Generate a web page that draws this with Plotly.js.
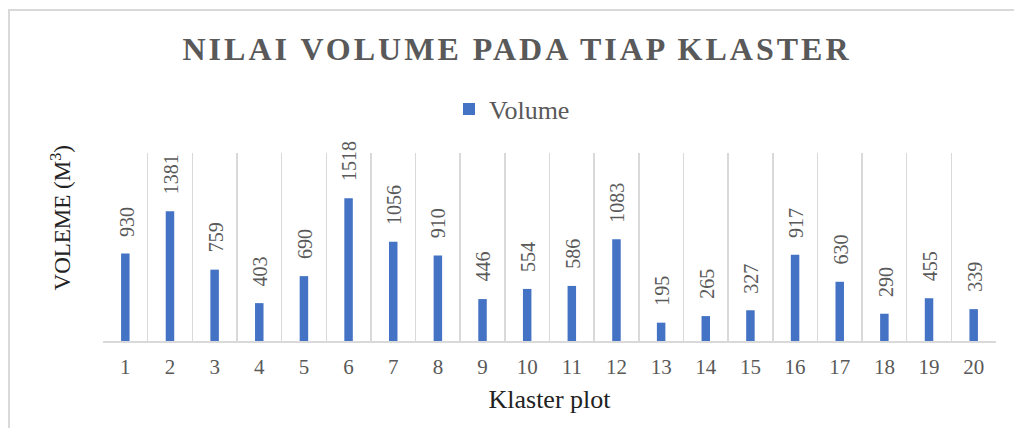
<!DOCTYPE html>
<html>
<head>
<meta charset="utf-8">
<script src="https://cdn.plot.ly/plotly-3.0.1.min.js"></script>
<style>
  body { margin: 0; background: #fff; }
  #chart { position: absolute; left: 0; top: 0; width: 1014px; height: 428px; }
  #frame { position: absolute; left: 8px; top: 9px; right: 0; bottom: 0;
           border-left: 2px solid #d9d9d9; border-top: 2px solid #d9d9d9; pointer-events: none; }
</style>
</head>
<body>
<div id="chart"></div>
<div id="frame"></div>
<script>
// Volume per cluster (m3)
const klaster = ['1','2','3','4','5','6','7','8','9','10','11','12','13','14','15','16','17','18','19','20'];
const volume = [930, 1381, 759, 403, 690, 1518, 1056, 910, 446, 554, 586, 1083, 195, 265, 327, 917, 630, 290, 455, 339];

const serif = 'Liberation Serif, Times New Roman, serif';
const grey = '#595959';

const barTrace = {
    x: klaster,
    y: volume,
    type: 'bar',
    name: 'Volume',
    width: 0.19,
    marker: { color: '#4472c4' },
    hoverinfo: 'none'
};

// value labels, rotated, sitting a bit above each bar
// (category axis: annotation x is the category's index)
const labels = klaster.map((k, i) => ({
    x: i,
    y: volume[i],
    xref: 'x',
    yref: 'y',
    text: String(volume[i]),
    textangle: -90,
    showarrow: false,
    yanchor: 'bottom',
    xanchor: 'center',
    xshift: 1,
    yshift: 15,
    font: { family: serif, size: 20, color: grey }
}));

labels.push({
    x: -0.047,
    y: 0.652,
    xref: 'paper',
    yref: 'paper',
    text: 'VOLEME (M<sup>3</sup>)',
    textangle: -90,
    showarrow: false,
    xanchor: 'center',
    yanchor: 'middle',
    font: { family: serif, size: 23, color: '#222222' }
});

const layout = {
    width: 1014,
    height: 428,
    margin: { t: 153, r: 18, b: 87, l: 103 },
    paper_bgcolor: 'rgba(0,0,0,0)',
    plot_bgcolor: 'rgba(0,0,0,0)',
    font: { family: serif, color: grey },
    title: {
        text: '<b>NILAI VOLUME PADA TIAP KLASTER</b>',
        x: 517 / 1014,
        xanchor: 'center',
        xref: 'container',
        y: 1 - 49 / 428,
        yanchor: 'middle',
        yref: 'container',
        font: { family: serif, size: 32, color: grey }
    },
    showlegend: true,
    legend: {
        orientation: 'h',
        x: 0.458,
        xanchor: 'center',
        y: 1.234,
        yanchor: 'middle',
        font: { family: serif, size: 26, color: grey },
        itemwidth: 30
    },
    xaxis: {
        type: 'category',
        tickson: 'boundaries',
        showgrid: true,
        gridcolor: '#d9d9d9',
        gridwidth: 1.5,
        showline: true,
        linecolor: '#d9d9d9',
        linewidth: 1.5,
        ticks: '',
        ticklabelstandoff: 6,
        tickfont: { family: serif, size: 21, color: grey },
        title: { text: 'Klaster plot', standoff: 12, font: { family: serif, size: 26, color: '#222222' } },
        range: [-0.5, 19.5]
    },
    yaxis: {
        range: [0, 2000],
        showgrid: false,
        zeroline: false,
        showline: false,
        showticklabels: false,
        ticks: ''
    },
    annotations: labels
};

Plotly.newPlot('chart', [barTrace], layout, { displayModeBar: false, staticPlot: true }).then(() => {
    const t = document.querySelector('.gtitle');
    if (t) t.style.letterSpacing = '3px';
});
</script>
</body>
</html>
